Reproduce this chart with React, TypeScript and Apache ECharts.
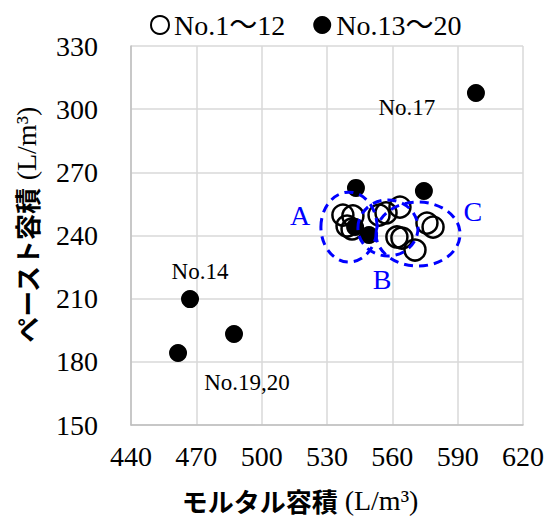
import React, { useEffect, useRef } from "react";
import * as echarts from "echarts";

// No.1～12 (hollow markers)
const hollowX = [537.3, 541.9, 539.2, 541.5, 553.9, 557.1, 563.5, 562.1, 564.4, 570.4, 575.9, 578.7];
const hollowY = [249.7, 249.3, 244.5, 243.1, 249.7, 250.7, 253.5, 239.3, 238.8, 233.1, 245.9, 244.0];
// No.13～20 (filled markers)
const filledX = [543.3, 467.1, 549.3, 542.9, 598.4, 574.5, 487.3, 461.6];
const filledY = [262.6, 209.8, 240.2, 244.0, 307.7, 261.1, 193.2, 184.2];

const seriesNames = ["No.1～12", "No.13～20"];
const xRange = [440, 620];
const yRange = [150, 330];
const tickStep = 30;

// group ellipses (data units): label, cx, cy, rx, ry
const groupNames = ["A", "B", "C"];
const groupCx = [540.1, 558.0, 571.8];
const groupCy = [244.0, 243.6, 240.7];
const groupRx = [12.9, 13.8, 19.3];
const groupRy = [16.6, 13.3, 15.2];
const groupLabelX = [517.6, 555.3, 597.0];
const groupLabelY = [249.7, 218.9, 251.2];

// annotations
const noteTexts = ["No.17", "No.14", "No.19,20"];
const noteX = [566.7, 471.7, 493.3];
const noteY = [300.6, 222.7, 170.0];

const SERIF = "'Liberation Serif', 'Times New Roman', 'Noto Sans CJK JP', serif";
const CJK = "'Noto Sans CJK JP', sans-serif";

export default function App() {
  const ref = useRef<HTMLDivElement>(null);

  useEffect(() => {
    document.body.style.margin = "0";
    if (!ref.current) return;
    const chart = echarts.init(ref.current, null, { renderer: "svg" });

    const axisCommon = {
      type: "value" as const,
      interval: tickStep,
      axisTick: { show: false },
      axisLine: { show: true, lineStyle: { color: "#bfbfbf", width: 1.5 } },
      splitLine: { show: true, lineStyle: { color: "#d9d9d9", width: 1.5 } },
    };

    chart.setOption({
      animation: false,
      backgroundColor: "#ffffff",
      grid: { left: 131, right: 24, top: 46, bottom: 99, containLabel: false },
      legend: {
        left: 145,
        top: 6,
        itemWidth: 18,
        itemHeight: 18,
        itemGap: 28,
        textStyle: { fontSize: 28, fontFamily: SERIF, color: "#000" },
        data: [
          { name: seriesNames[0], icon: "circle", itemStyle: { color: "#fff", borderColor: "#000", borderWidth: 2 } },
          { name: seriesNames[1], icon: "circle", itemStyle: { color: "#000", borderWidth: 0 } },
        ],
      },
      xAxis: {
        ...axisCommon,
        min: xRange[0],
        max: xRange[1],
        axisLabel: { fontSize: 28, fontFamily: SERIF, color: "#000", margin: 17 },
      },
      yAxis: {
        ...axisCommon,
        min: yRange[0],
        max: yRange[1],
        axisLabel: { fontSize: 28, fontFamily: SERIF, color: "#000", margin: 33 },
      },
      series: [
        {
          name: seriesNames[1],
          type: "scatter",
          symbol: "circle",
          symbolSize: 18,
          itemStyle: { color: "#000", opacity: 1 },
          data: filledX.map((x, i) => [x, filledY[i]]),
          z: 2,
        },
        {
          name: seriesNames[0],
          type: "scatter",
          symbol: "circle",
          symbolSize: 21,
          itemStyle: { color: "rgba(255,255,255,0)", borderColor: "#000", borderWidth: 2.5, opacity: 1 },
          data: hollowX.map((x, i) => [x, hollowY[i]]),
          z: 3,
        },
      ],
    });

    const px = (x: number, y: number) => chart.convertToPixel({ gridIndex: 0 }, [x, y]) as number[];

    const graphics: any[] = [];
    groupNames.forEach((name, i) => {
      const c = px(groupCx[i], groupCy[i]);
      const e = px(groupCx[i] + groupRx[i], groupCy[i] + groupRy[i]);
      graphics.push({
        type: "ellipse",
        z: 10,
        shape: { cx: c[0], cy: c[1], rx: Math.abs(e[0] - c[0]), ry: Math.abs(e[1] - c[1]) },
        style: { fill: "none", stroke: "#0000ff", lineWidth: 3, lineDash: [9, 6] },
      });
      const l = px(groupLabelX[i], groupLabelY[i]);
      graphics.push({
        type: "text",
        z: 10,
        x: l[0],
        y: l[1],
        style: { text: name, fontSize: 28, fontFamily: SERIF, fill: "#0000ff", align: "center", verticalAlign: "middle" },
      });
    });
    noteTexts.forEach((t, i) => {
      const p = px(noteX[i], noteY[i]);
      graphics.push({
        type: "text",
        z: 10,
        x: p[0],
        y: p[1],
        style: { text: t, fontSize: 23, fontFamily: SERIF, fill: "#000", align: "center", verticalAlign: "middle" },
      });
    });
    const richTitle = {
      a: { fontSize: 26, fontFamily: CJK, fontWeight: "bold", fill: "#000", color: "#000" },
      b: { fontSize: 28, fontFamily: SERIF, fontWeight: "normal", fill: "#000", color: "#000" },
    };
    // axis titles
    graphics.push({
      type: "text",
      x: 300,
      y: 500,
      style: {
        text: "{a|モルタル容積}{b| (L/m³)}",
        align: "center",
        verticalAlign: "middle",
        fontWeight: "normal",
        rich: richTitle,
      },
    });
    graphics.push({
      type: "text",
      x: 26,
      y: 225,
      rotation: Math.PI / 2,
      style: {
        text: "{a|ペースト容積}{b| (L/m³)}",
        align: "center",
        verticalAlign: "middle",
        fontWeight: "normal",
        rich: richTitle,
      },
    });

    chart.setOption({ graphic: graphics });

    return () => chart.dispose();
  }, []);

  return <div ref={ref} style={{ width: 547, height: 524 }} />;
}
